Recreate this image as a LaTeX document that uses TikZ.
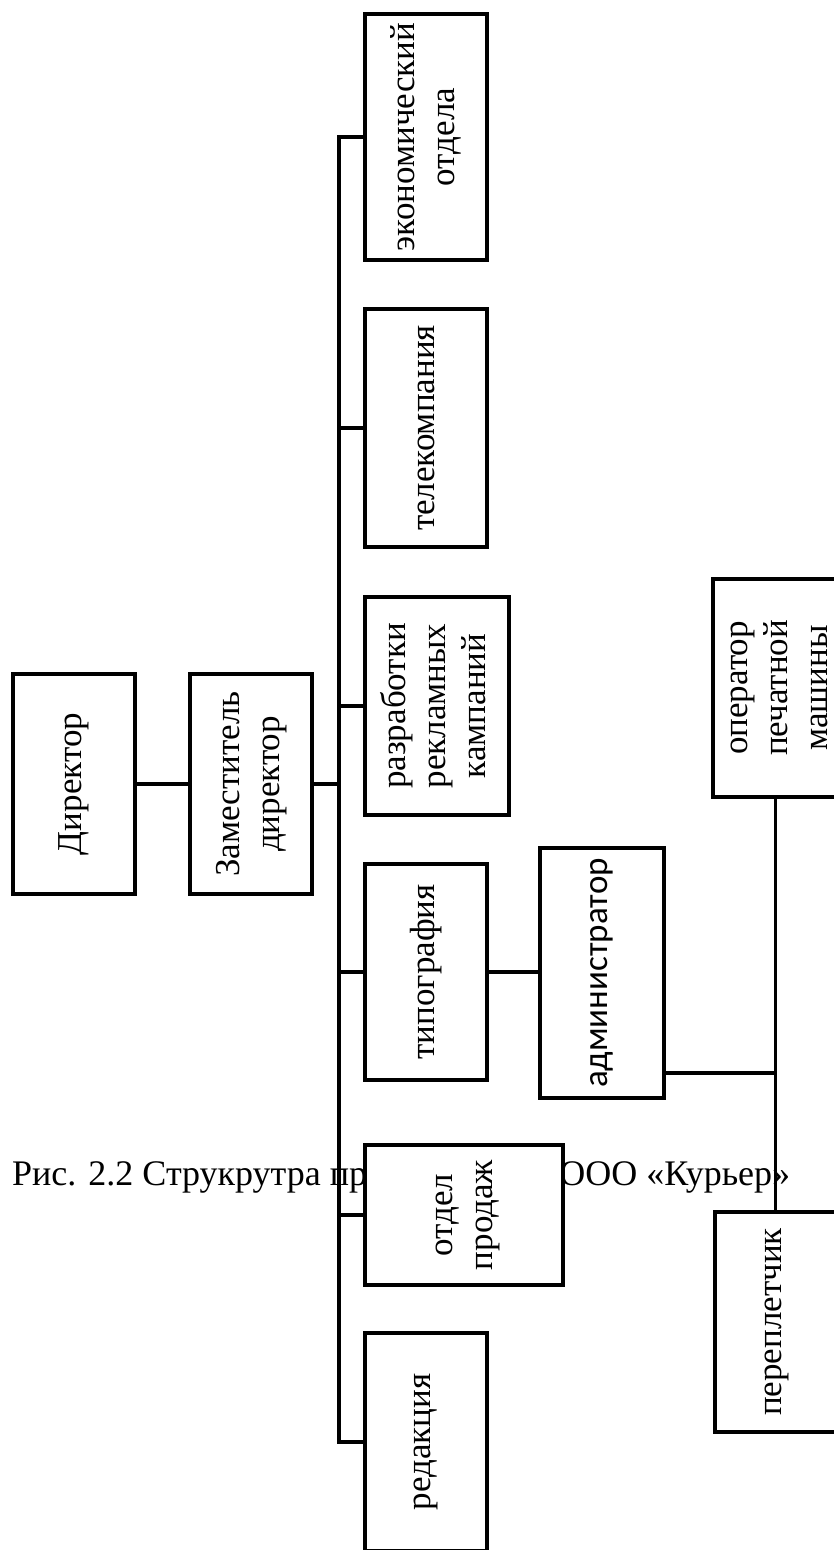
\documentclass[tikz,border=0pt]{standalone}
\usepackage{fontspec}
\setmainfont{Liberation Serif}
\newfontfamily\calibrifont{Carlito}
\begin{document}
\begin{tikzpicture}[x=1pt,y=-1pt,
  box/.style={draw=black, line width=4pt, fill=white, inner sep=0pt, line join=miter,
    font=\fontsize{35}{40}\selectfont},
  link/.style={draw=black, line width=3.8pt, line join=miter},
  captiontext/.style={anchor=base west, inner sep=0pt, font=\fontsize{36}{42}\selectfont}]
\useasboundingbox (0,0) rectangle (833,1550);
\fill[white] (0,0) rectangle (833,1550);
% caption (drawn first, partly covered)
\node[captiontext] (caption) at (12,1185)
  {\makebox[778pt][l]{Рис. 2.2 Струкрутра предприятия\hfill ООО «Курьер»}};
% junction coordinates
\coordinate (tbot) at (339,1442);
\coordinate (aj) at (775.5,1073);
% boxes
\node[box, minimum width=122pt, minimum height=220pt] (dir) at (74,784)
  {\rotatebox{90}{Директор}};
\node[box, minimum width=122pt, minimum height=220pt] (zam) at (251,784)
  {\rotatebox{90}{\begin{tabular}{@{}c@{}}Заместитель\\директор\end{tabular}}};
\node[box, minimum width=122pt, minimum height=246pt] (eco) at (426,137)
  {\rotatebox{90}{\begin{tabular}{@{}c@{}}экономический\\отдела\end{tabular}}};
\node[box, minimum width=122pt, minimum height=238pt] (tele) at (426,428)
  {\rotatebox{90}{телекомпания}};
\node[box, minimum width=144pt, minimum height=218pt] (razr) at (437,706)
  {\rotatebox{90}{\begin{tabular}{@{}c@{}}разработки\\рекламных\\кампаний\end{tabular}}};
\node[box, minimum width=122pt, minimum height=216pt] (typ) at (426,972)
  {\rotatebox{90}{типография}};
\node[box, minimum width=124pt, minimum height=250pt, font=\calibrifont\fontsize{35}{40}\selectfont] (admin) at (602,973)
  {\rotatebox{90}{администратор}};
\node[box, minimum width=198pt, minimum height=140pt] (prod) at (464,1215)
  {\rotatebox{90}{\begin{tabular}{@{}c@{}}отдел\\продаж\end{tabular}}};
\node[box, minimum width=122pt, minimum height=218pt] (red) at (426,1442)
  {\rotatebox{90}{редакция}};
\node[box, minimum width=132pt, minimum height=218pt] (oper) at (779,688)
  {\rotatebox{90}{\begin{tabular}{@{}c@{}}оператор\\печатной\\машины\end{tabular}}};
\node[box, minimum width=124pt, minimum height=220pt] (perep) at (776.5,1322)
  {\rotatebox{90}{переплетчик}};
% connectors
\draw[link] (dir.east) -- (zam.west);
\draw[link] (zam.east) -- (zam.east -| tbot);
\draw[link] (eco.west) -| (tbot) -- (red.west);
\draw[link] (tele.west) -- (tele.west -| tbot);
\draw[link] (razr.west) -- (razr.west -| tbot);
\draw[link] (typ.west) -- (typ.west -| tbot);
\draw[link] (prod.west) -- (prod.west -| tbot);
\draw[link] (typ.east) -- (typ.east -| admin.west);
\draw[link] (admin.east |- aj) -- (aj);
\draw[link] (oper.south -| aj) -- (perep.north -| aj);
\end{tikzpicture}
\end{document}
